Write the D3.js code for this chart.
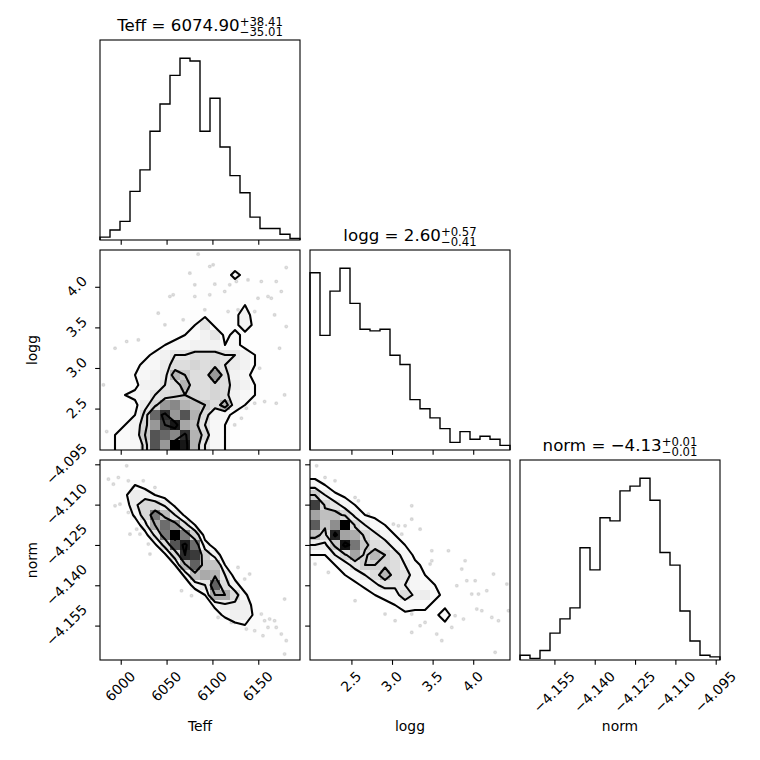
<!DOCTYPE html>
<html>
<head>
<meta charset="utf-8">
<script src="https://cdn.jsdelivr.net/npm/d3@7"></script>
<style>
  body { margin: 0; background: #fff; }
  svg { display: block; }
</style>
</head>
<body>
<svg id="corner" width="760" height="760"></svg>
<script>
// ---- data ----
const labels = ["Teff", "logg", "norm"];
const teffRange = [5977.4, 6195.5];
const loggRange = [1.99, 4.453];
const normRange = [-4.1678, -4.0934];

const teffTicks = [6000, 6050, 6100, 6150];
const loggTicks = [2.5, 3.0, 3.5, 4.0];
const normTicks = [-4.155, -4.140, -4.125, -4.110, -4.095];

// 1d histogram counts, 20 bins each
const teffHist = [2, 7, 13, 34, 49, 76, 95, 115, 127, 125, 76, 99, 65, 45, 33, 16, 8, 8, 4, 1];
const loggHist = [116, 75, 104, 119, 96, 79, 78, 79, 62, 56, 33, 27, 21, 14, 5, 12, 7, 9, 7, 3];
const normHist = [3, 1, 6, 17, 26, 33, 71, 57, 90, 88, 107, 110, 115, 101, 68, 60, 31, 12, 3, 2];

// median, +err, -err
const teffSummary = [6074.90, 38.41, 35.01];
const loggSummary = [2.60, 0.57, 0.41];
const normSummary = [-4.13, 0.01, 0.01];

// 2d histogram counts, rows listed from the top of the panel down
const teffLoggGrid = [
  [0,0,0,0,0,0,0,0,0,1,0,0,0,1,0,0,1,0,0,0],
  [0,0,0,0,0,0,0,0,1,0,1,0,1,0,1,1,0,1,0,1],
  [0,0,0,0,0,0,0,0,0,1,0,1,0,5,1,0,1,0,1,0],
  [0,0,0,0,0,0,0,1,0,0,1,1,1,0,1,1,0,1,0,0],
  [0,0,0,0,0,0,0,0,1,1,2,1,1,1,1,0,1,1,0,0],
  [0,0,0,0,0,0,0,0,0,1,0,1,0,1,3,1,0,1,0,0],
  [0,0,0,0,0,0,1,0,1,2,2,1,2,2,5,1,0,0,0,0],
  [0,0,0,0,0,1,0,1,2,3,7,2,1,2,5,2,1,0,0,0],
  [0,0,0,0,1,0,1,2,3,3,5,7,2,4,2,1,1,0,0,0],
  [0,0,0,0,0,1,3,4,4,5,5,5,3,4,2,1,1,1,0,0],
  [0,0,0,0,2,4,5,7,7,8,8,8,7,7,5,3,1,0,0,0],
  [0,0,0,2,4,4,6,8,8,9,8,9,7,6,5,3,1,0,0,0],
  [0,0,0,3,4,5,6,12,10,8,8,14,8,5,4,2,1,1,0,0],
  [0,0,1,2,5,5,7,8,12,8,8,9,8,6,5,3,1,0,0,0],
  [0,0,3,4,4,7,8,9,10,9,8,9,8,5,4,3,2,0,0,0],
  [0,1,1,2,6,9,14,15,12,11,10,8,12,5,3,1,0,0,0,0],
  [0,0,2,3,8,17,20,14,18,12,8,5,4,2,1,0,0,0,0,0],
  [0,1,3,5,9,14,19,21,13,11,7,4,3,1,0,0,0,0,0,0],
  [0,3,3,5,10,18,17,15,20,12,9,4,3,1,0,0,0,0,0,0],
  [1,3,3,4,8,18,14,22,21,12,7,4,3,1,0,0,0,0,0,0]
];
const teffNormGrid = [
  [0,1,1,0,0,0,0,0,0,0,0,0,0,0,0,0,0,0,0,0],
  [1,2,2,2,0,0,0,0,0,0,0,0,0,0,0,0,0,0,0,0],
  [0,2,3,5,3,1,0,0,0,0,0,0,0,0,0,0,0,0,0,0],
  [1,1,4,9,8,5,3,0,0,0,0,0,0,0,0,0,0,0,0,0],
  [0,1,2,9,13,13,9,4,0,0,0,0,0,0,0,0,0,0,0,0],
  [0,0,1,6,13,24,17,10,4,0,0,0,0,0,0,0,0,0,0,0],
  [0,0,0,2,8,19,25,22,12,5,0,0,0,0,0,0,0,0,0,0],
  [0,0,0,1,3,11,24,33,24,14,3,0,0,0,0,0,0,0,0,0],
  [0,0,0,0,1,4,12,27,31,25,7,3,0,0,0,0,0,0,0,0],
  [0,0,0,0,0,1,4,13,30,29,14,8,2,0,0,0,0,0,0,0],
  [0,0,0,0,0,0,1,5,18,26,16,16,5,1,0,0,0,0,0,0],
  [0,0,0,0,0,0,0,1,6,17,19,18,10,3,1,0,0,0,0,0],
  [0,0,0,0,0,0,0,0,2,7,10,26,12,7,2,0,0,0,0,0],
  [0,0,0,0,0,0,0,0,0,2,5,19,19,12,6,1,0,0,0,0],
  [0,0,0,0,0,0,0,0,0,0,2,6,9,9,8,3,0,0,0,0],
  [0,0,0,0,0,0,0,0,0,0,0,3,6,8,8,4,2,1,0,0],
  [0,0,0,0,0,0,0,0,0,0,0,0,2,4,5,4,2,2,1,0],
  [0,0,0,0,0,0,0,0,0,0,0,0,0,1,2,3,2,2,1,0],
  [0,0,0,0,0,0,0,0,0,0,0,0,0,0,1,1,1,2,1,1],
  [0,0,0,0,0,0,0,0,0,0,0,0,0,0,0,0,1,1,1,0]
];
const loggNormGrid = [
  [1,0,0,0,0,0,0,0,0,0,0,0,0,0,0,0,0,0,0,0],
  [1,1,0,0,0,0,0,0,0,0,0,0,0,0,0,0,0,0,0,0],
  [6,3,0,0,0,0,0,0,0,0,0,0,0,0,0,0,0,0,0,0],
  [13,8,4,2,0,0,0,0,0,0,0,0,0,0,0,0,0,0,0,0],
  [26,12,10,6,3,1,0,0,0,0,0,0,0,0,0,0,0,0,0,0],
  [18,15,15,12,7,3,2,1,0,0,0,0,0,0,0,0,0,0,0,0],
  [24,14,20,30,12,8,5,3,2,0,0,0,0,0,0,0,0,0,0,0],
  [15,11,28,18,17,12,9,6,3,2,0,0,0,0,0,0,0,0,0,0],
  [8,7,14,29,22,14,11,10,6,3,1,0,0,0,0,0,0,0,0,0],
  [3,3,8,12,18,12,16,13,10,6,2,1,1,0,0,0,0,1,0,0],
  [2,1,3,6,10,13,13,12,11,8,4,2,1,1,0,1,0,0,0,0],
  [0,1,2,3,5,8,11,16,11,10,6,3,2,0,0,1,1,1,1,0],
  [0,0,0,1,2,4,7,10,9,8,6,5,3,1,1,2,0,1,1,1],
  [0,0,0,0,0,1,3,4,6,11,7,8,4,2,0,2,1,2,1,0],
  [0,0,0,0,0,0,1,2,3,5,4,4,2,2,1,2,1,1,0,0],
  [0,0,0,0,0,0,0,0,1,2,2,2,2,5,1,2,1,1,2,1],
  [0,0,0,0,0,0,0,0,0,1,1,1,2,2,1,1,1,1,1,1],
  [0,0,0,0,0,0,0,0,0,0,0,1,1,0,1,1,1,0,0,0],
  [0,0,0,0,0,0,0,0,0,0,0,0,1,0,0,0,0,1,0,0],
  [0,0,0,0,0,0,0,0,0,0,0,0,0,1,0,0,1,0,1,0]
];

// samples lying outside the outer contour
const teffLoggPoints = [[6084.4,4.402],[6097.1,4.250],[6075.4,4.168],[6180.5,4.237],[6126.1,4.065],[6138.8,4.085],[6153.3,4.065],[6169.6,4.065],[6080.8,4.024],[6102.6,4.032],[6118.9,4.024],[6113.4,3.942],[6080.8,3.880],[6057.2,3.901],[6053.6,3.880],[6097.1,3.901],[6149.7,3.859],[6160.6,3.880],[6164.2,3.859],[6040.9,3.675],[6117.1,3.695],[6167.8,3.654],[6180.5,3.510],[6048.2,3.531],[6006.5,3.326],[6019.2,3.346],[5993.8,3.243],[6173.2,3.243],[6144.2,3.120],[6151.5,2.997],[6178.7,2.668],[6146.1,2.566],[6137.0,2.504],[6156.9,2.586],[6169.6,2.566],[6131.6,2.381],[6124.3,2.299],[6175.1,3.942],[6091.7,3.716],[6068.1,3.593],[6127.9,3.716],[6100.8,4.270],[6146.1,3.695],[5984.7,2.217],[5981.1,2.792]];
const teffNormPoints = [[6006.5,-4.09558],[5986.6,-4.10053],[5997.4,-4.09991],[6008.3,-4.10115],[6024.6,-4.10115],[5992.0,-4.10239],[6013.8,-4.10363],[6037.3,-4.10363],[5993.8,-4.11044],[5999.2,-4.10982],[6008.3,-4.11292],[6010.1,-4.12098],[6021.0,-4.12098],[6030.1,-4.12469],[6031.9,-4.12841],[6017.4,-4.11912],[6127.9,-4.13337],[6135.2,-4.13770],[6140.6,-4.13584],[6066.3,-4.14204],[6077.2,-4.14390],[6109.8,-4.14947],[6106.2,-4.15195],[6115.3,-4.15133],[6120.7,-4.15381],[6124.3,-4.15381],[6153.3,-4.15071],[6156.9,-4.15319],[6162.4,-4.15257],[6167.8,-4.15319],[6160.6,-4.15567],[6169.6,-4.15567],[6175.1,-4.15815],[6178.7,-4.14514],[6180.5,-4.16062],[6178.7,-4.16558],[6137.0,-4.15629],[6146.1,-4.15691],[6155.1,-4.15877]];
const loggNormPoints = [[2.072,-4.09558],[2.298,-4.10115],[2.175,-4.09991],[2.545,-4.10735],[2.586,-4.10859],[3.243,-4.11044],[2.709,-4.11354],[3.017,-4.11726],[3.079,-4.11788],[3.161,-4.11788],[3.346,-4.11912],[3.243,-4.11540],[2.955,-4.11974],[3.120,-4.12098],[2.175,-4.12841],[2.052,-4.13213],[2.216,-4.13522],[2.545,-4.14576],[2.914,-4.15071],[3.038,-4.15319],[3.243,-4.15753],[3.346,-4.15505],[3.490,-4.12717],[3.695,-4.12717],[3.469,-4.13213],[3.490,-4.13089],[3.900,-4.13089],[3.859,-4.13398],[3.531,-4.14080],[3.798,-4.14018],[3.921,-4.13832],[4.024,-4.13832],[4.065,-4.14328],[4.167,-4.14204],[4.250,-4.13584],[4.414,-4.13956],[4.044,-4.14885],[4.106,-4.14947],[4.229,-4.15195],[3.777,-4.15133],[3.880,-4.15257],[3.736,-4.15567],[3.551,-4.15815],[3.407,-4.15381],[3.613,-4.16062],[4.311,-4.15319],[4.270,-4.16496],[4.434,-4.14947],[3.982,-4.14328],[3.243,-4.15071]];

// ---- layout ----
const FONT = "DejaVu Sans, sans-serif";
const FS = 13.89;
const size = 200, gap = 10, left0 = 100, top0 = 40;
const tickLen = 4.86, tickPad = 4.86;
const c45 = Math.SQRT1_2;
const ascent = 0.76 * FS, descent = 0.236 * FS;
const sigmaLevels = [0.5, 1, 1.5, 2].map(s => 1 - Math.exp(-0.5 * s * s));

const svg = d3.select("#corner").attr("font-family", FONT);
const defs = svg.append("defs");

const params = [
  { label: labels[0], range: teffRange, ticks: teffTicks, fmt: d3.format("d"), hist: teffHist, summary: teffSummary },
  { label: labels[1], range: loggRange, ticks: loggTicks, fmt: d3.format(".1f"), hist: loggHist, summary: loggSummary },
  { label: labels[2], range: normRange, ticks: normTicks, fmt: d3.format(".3f"), hist: normHist, summary: normSummary }
];
params.forEach((p, i) => {
  p.left = left0 + i * (size + gap);
  p.top = top0 + i * (size + gap);
  p.x = d3.scaleLinear().domain(p.range).range([p.left, p.left + size]);
  p.y = d3.scaleLinear().domain(p.range).range([p.top + size, p.top]);
});

const pairs = [
  { col: 0, row: 1, grid: teffLoggGrid, points: teffLoggPoints },
  { col: 0, row: 2, grid: teffNormGrid, points: teffNormPoints },
  { col: 1, row: 2, grid: loggNormGrid, points: loggNormPoints }
];

// ---- helpers ----
function rotateXLabels(g) {
  g.selectAll(".tick text").each(function () {
    const t = d3.select(this).attr("x", 0).attr("y", 0).attr("dy", null).attr("text-anchor", "start");
    const w = this.getComputedTextLength();
    const ox = -c45 * (w + descent - ascent) / 2;
    const oy = tickLen + tickPad + c45 * (w + ascent);
    t.attr("transform", `translate(${ox},${oy}) rotate(-45)`);
  });
}

function rotateYLabels(g) {
  g.selectAll(".tick text").each(function () {
    const t = d3.select(this).attr("x", 0).attr("y", 0).attr("dy", null).attr("text-anchor", "start");
    const w = this.getComputedTextLength();
    const ox = -(tickLen + tickPad) - c45 * (w + descent);
    const oy = -c45 * (descent - w - ascent) / 2;
    t.attr("transform", `translate(${ox},${oy}) rotate(-45)`);
  });
}

function drawAxis(axis, pos, horizontal, withLabels) {
  const g = svg.append("g")
    .attr("transform", horizontal ? `translate(0,${pos})` : `translate(${pos},0)`)
    .call(axis.tickSize(tickLen).tickPadding(tickPad));
  g.select(".domain").remove();
  g.attr("font-family", FONT).attr("font-size", FS);
  g.selectAll(".tick line").attr("stroke-width", 1.1);
  if (!withLabels) g.selectAll(".tick text").remove();
  else if (horizontal) rotateXLabels(g);
  else rotateYLabels(g);
}

function frame(x, y) {
  svg.append("rect")
    .attr("x", x).attr("y", y).attr("width", size).attr("height", size)
    .attr("fill", "none").attr("stroke", "#000").attr("stroke-width", 1.1);
}

// contour thresholds the way corner picks them
function contourLevels(grid) {
  const flat = grid.flat().sort((a, b) => b - a);
  const total = d3.sum(flat);
  let cum = 0;
  const sm = flat.map(v => (cum += v) / total);
  const V = sigmaLevels.map(l => {
    let v = flat[0];
    for (let i = 0; i < flat.length; i++) if (sm[i] <= l) v = flat[i];
    return v;
  });
  V.sort((a, b) => a - b);
  for (let i = 1; i < V.length; i++) {
    if (V[i] === V[i - 1]) { V[i - 1] *= 1 - 1e-4; V.sort((a, b) => a - b); i = 0; }
  }
  return V;
}

// padded copy of the histogram used for the contour lines (24 x 24)
function extendGrid(grid) {
  const n = grid.length, m = n + 4;
  const minH = d3.min(grid.flat());
  const vals = new Array(m * m).fill(minH);
  for (let a = 1; a < m - 1; a++) {
    for (let b = 1; b < m - 1; b++) {
      const i = Math.min(n - 1, Math.max(0, a - 2));
      const k = Math.min(n - 1, Math.max(0, b - 2));
      vals[b * m + a] = grid[n - 1 - k][i];
    }
  }
  return { vals, m };
}

// ---- 1d histograms ----
params.forEach((p, i) => {
  const maxN = d3.max(p.hist);
  const yc = d3.scaleLinear().domain([0, 1.1 * maxN]).range([p.top + size, p.top]);
  const bw = (p.range[1] - p.range[0]) / p.hist.length;
  const verts = [[p.range[0], 0]];
  p.hist.forEach((n, k) => {
    verts.push([p.range[0] + k * bw, n], [p.range[0] + (k + 1) * bw, n]);
  });
  verts.push([p.range[1], 0]);

  svg.append("path")
    .attr("d", d3.line().x(d => p.x(d[0])).y(d => yc(d[1]))(verts))
    .attr("fill", "none").attr("stroke", "#000").attr("stroke-width", 1.39)
    .attr("stroke-linejoin", "miter");

  drawAxis(d3.axisBottom(p.x).tickValues(p.ticks).tickFormat(p.fmt), p.top + size, true, i === params.length - 1);
  frame(p.left, p.top);

  // title with super/subscript errors
  const baseline = p.top - 9.3;
  const tg = svg.append("g");
  const main = tg.append("text").attr("x", 0).attr("y", baseline)
    .attr("font-size", 16.67)
    .text(`${p.label} = ${p.summary[0].toFixed(2).replace("-", "\u2212")}`);
  const mw = main.node().getComputedTextLength();
  const sup = tg.append("text").attr("x", mw).attr("y", baseline - 4.6)
    .attr("font-size", 11.67).text(`+${p.summary[1].toFixed(2)}`);
  const sub = tg.append("text").attr("x", mw).attr("y", baseline + 4.8)
    .attr("font-size", 11.67).text(`\u2212${p.summary[2].toFixed(2)}`);
  const total = mw + Math.max(sup.node().getComputedTextLength(), sub.node().getComputedTextLength());
  tg.attr("transform", `translate(${p.left + size / 2 - total / 2},0)`);
});

// ---- 2d panels ----
pairs.forEach((pr, idx) => {
  const px = params[pr.col], py = params[pr.row];
  const n = pr.grid.length;
  const bwx = (px.range[1] - px.range[0]) / n;
  const bwy = (py.range[1] - py.range[0]) / n;

  const clipId = `clip-${idx}`;
  defs.append("clipPath").attr("id", clipId)
    .append("rect").attr("x", px.left).attr("y", py.top).attr("width", size).attr("height", size);
  const g = svg.append("g").attr("clip-path", `url(#${clipId})`);

  // data points
  g.selectAll("circle").data(pr.points).join("circle")
    .attr("cx", d => px.x(d[0])).attr("cy", d => py.y(d[1])).attr("r", 1.4)
    .attr("fill", "#000").attr("fill-opacity", 0.1)
    .attr("stroke", "#000").attr("stroke-opacity", 0.1).attr("stroke-width", 1.39);

  const V = contourLevels(pr.grid);
  const { vals, m } = extendGrid(pr.grid);
  const proj = d3.geoTransform({
    point(gx, gy) {
      this.stream.point(px.x(px.range[0] + (gx - 2) * bwx), py.y(py.range[0] + (gy - 2) * bwy));
    }
  });
  const path = d3.geoPath(proj);

  // white base fill hiding the dense points
  const base = d3.contours().size([m, m]).thresholds([V[0]])(vals);
  g.append("path").attr("d", path(base[0])).attr("fill", "#fff").attr("stroke", "none");

  // density cells
  const hMax = d3.max(pr.grid.flat());
  const cells = [];
  pr.grid.forEach((row, j) => row.forEach((h, i) => {
    if (h > 0) cells.push({ i, k: n - 1 - j, h });
  }));
  g.selectAll("rect.cell").data(cells).join("rect")
    .attr("class", "cell")
    .attr("x", d => px.x(px.range[0] + d.i * bwx))
    .attr("y", d => py.y(py.range[0] + (d.k + 1) * bwy))
    .attr("width", d => px.x(px.range[0] + (d.i + 1) * bwx) - px.x(px.range[0] + d.i * bwx))
    .attr("height", d => py.y(py.range[0] + d.k * bwy) - py.y(py.range[0] + (d.k + 1) * bwy))
    .attr("fill", d => { const t = Math.round(255 * (hMax - d.h) / hMax); return `rgb(${t},${t},${t})`; })
    .attr("fill-opacity", d => d.h / hMax)
    .attr("shape-rendering", "crispEdges");

  // contour lines
  const lines = d3.contours().size([m, m]).thresholds(V)(vals);
  g.selectAll("path.line").data(lines).join("path")
    .attr("class", "line")
    .attr("d", path)
    .attr("fill", "none").attr("stroke", "#000").attr("stroke-width", 2.08)
    .attr("stroke-linejoin", "round");

  const bottomRow = pr.row === params.length - 1;
  drawAxis(d3.axisBottom(px.x).tickValues(px.ticks).tickFormat(px.fmt), py.top + size, true, bottomRow);
  drawAxis(d3.axisLeft(py.y).tickValues(py.ticks).tickFormat(py.fmt), px.left, false, pr.col === 0);
  frame(px.left, py.top);
});

// ---- axis labels ----
params.forEach(p => {
  svg.append("text")
    .attr("x", p.left + size / 2).attr("y", 731)
    .attr("text-anchor", "middle").attr("font-size", FS)
    .text(p.label);
});
params.slice(1).forEach(p => {
  svg.append("text")
    .attr("transform", `translate(37,${p.top + size / 2}) rotate(-90)`)
    .attr("text-anchor", "middle").attr("font-size", FS)
    .text(p.label);
});
</script>
</body>
</html>
